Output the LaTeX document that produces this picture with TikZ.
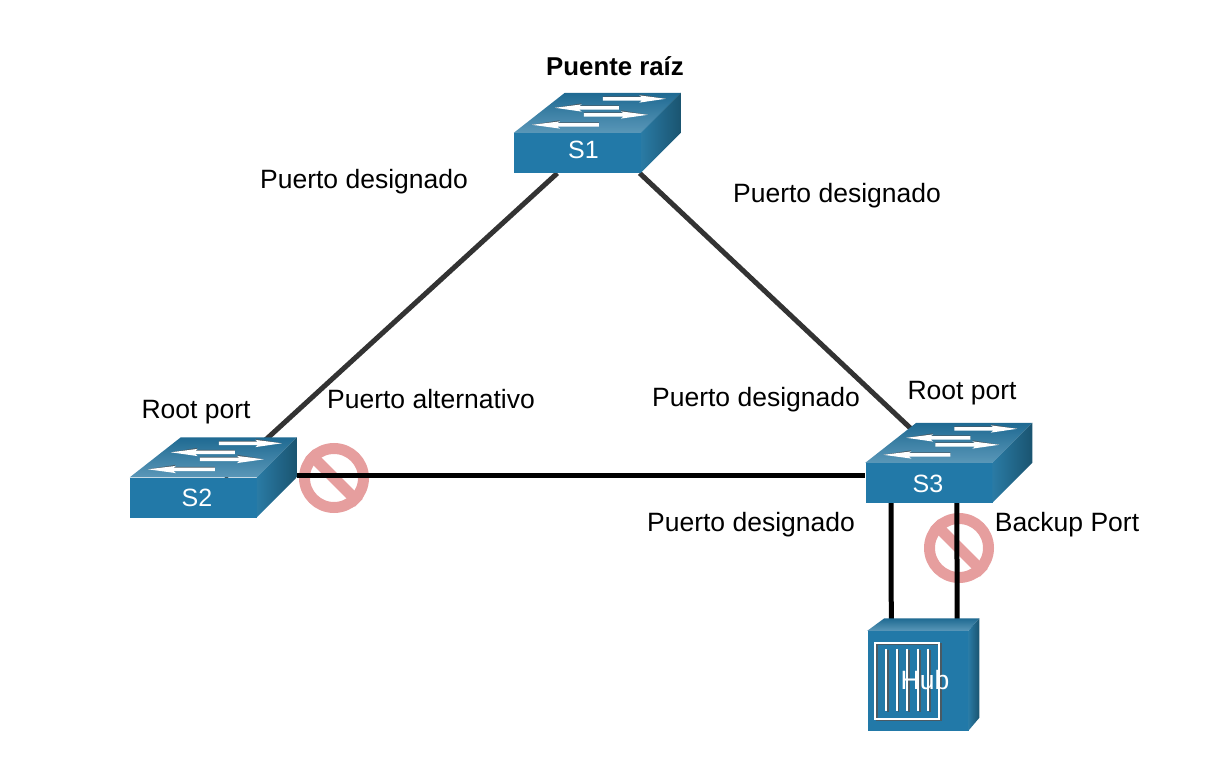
\documentclass[tikz,border=0pt]{standalone}
\usepackage{fontspec}
\setmainfont{Liberation Sans}
\usetikzlibrary{backgrounds}

\definecolor{devblue}{HTML}{2279A8}
\definecolor{topback}{HTML}{1F6A92}
\definecolor{topfront}{HTML}{5A97B8}
\definecolor{sidelight}{HTML}{2A7BA5}
\definecolor{sidedark}{HTML}{1A5470}
\definecolor{linkdark}{HTML}{333333}
\definecolor{blockpink}{HTML}{E69E9E}
\definecolor{arrowshade}{HTML}{4A5A64}

\begin{document}
\begin{tikzpicture}[x=1pt,y=-1pt,every node/.style={font=\fontsize{26.5}{30}\selectfont}]

    % Styles, sizes are reference pixels
    \tikzstyle{switch_front} = [fill=devblue, inner sep=0pt,
        minimum width=127, minimum height=40]
    \tikzstyle{hub_front} = [fill=devblue, inner sep=0pt,
        minimum width=101, minimum height=100]
    \tikzstyle{dev_name} = [text=white, inner sep=0pt]
    \tikzstyle{port_label} = [text=black, inner sep=0pt]
    \tikzstyle{link_dark} = [draw=linkdark, line width=5]
    \tikzstyle{link_black} = [draw=black, line width=5]
    \tikzstyle{block_ring} = [circle, draw=blockpink, line width=11, inner sep=0pt,
        minimum size=59]
    \tikzstyle{block_bar} = [draw=blockpink, line width=11]
    \tikzstyle{top_face} = [top color=topback, bottom color=topfront]
    \tikzstyle{side_face} = [left color=sidelight, right color=sidedark]

    % Flat arrow on a switch top: #1 tail x, #2 tip x, #3 y
    \def\flowarrow#1#2#3{
        \fill[arrowshade] (#1,#3-2.4) -- ({#2-(#2-#1)*0.38},#3-2.4) -- ({#2-(#2-#1)*0.42},#3-4.5)
            -- (#2,#3) -- (#1,#3) -- cycle;
        \fill[white] (#1,#3-1.6) -- ({#2-(#2-#1)*0.38},#3-1.6) -- ({#2-(#2-#1)*0.42},#3-3.4)
            -- (#2,#3) -- ({#2-(#2-#1)*0.42},#3+3.8) -- ({#2-(#2-#1)*0.38},#3+1.8)
            -- (#1,#3+1.8) -- cycle;
    }
    % Top and side faces of a switch, from its front node
    \def\switchfaces#1{
        \begin{scope}[shift={(#1.north west)}]
            \path[top_face] (0,0) -- (51,-40) -- (167,-40) -- (127,0) -- cycle;
            \path[side_face] (127,0) -- (167,-40) -- (167,0) -- (127,40) -- cycle;
            \flowarrow{89}{152}{-34}
            \flowarrow{105}{41}{-25}
            \flowarrow{70}{134}{-18}
            \flowarrow{85}{18}{-8}
        \end{scope}
    }

    % Switches and hub
    \node[switch_front] (s1) at (577.5,153) {};
    \node[switch_front] (s2) at (193.5,497.5) {};
    \node[switch_front] (s3) at (929,483) {};
    \node[hub_front] (hub) at (918,681) {};

    % Free end of the S2 link on the side face
    \coordinate (s2 port) at ([shift={(40,-2)}]s2.north east);

    \begin{scope}[on background layer]
        % Blocked ports lie under the links
        \node[block_ring] (block s2) at (334,478) {};
        \node[block_ring] (block s3) at (959,548) {};
        \draw[block_bar] (block s2.135) -- (block s2.-45);
        \draw[block_bar] (block s3.135) -- (block s3.-45);

        % Links
        \draw[link_dark] (s1.-135) -- (s2.33);
        \draw[link_dark] (s1.-18) -- (s3.48);
        \draw[link_black] (s2 port) -- (s2 port -| s3.west);
        \draw[link_black] (s3.-152.2) -- (hub.118.4);
        \draw[link_black] (s3.-36) -- (hub.52);
    \end{scope}

    \switchfaces{s1}
    \switchfaces{s2}
    \switchfaces{s3}

    % Hub faces and panel
    \begin{scope}[shift={(hub.north west)}]
        \path[top_face] (0,0) -- (17,-12.5) -- (112,-12.5) -- (101,0) -- cycle;
        \path[side_face] (101,0) -- (112,-12.5) -- (112,87) -- (101,100) -- cycle;
        \draw[arrowshade, line width=2] (9.5,13.5) rectangle (73.5,89.5);
        \draw[white, line width=1.8] (8,12) rectangle (72,88);
        \foreach \panelx in {19,29.5,40,51,61} {
            \draw[arrowshade, line width=1.8] (\panelx+1.7,19) -- (\panelx+1.7,81);
            \draw[white, line width=1.8] (\panelx,18) -- (\panelx,80);
        }
    \end{scope}

    % Device names
    \node[dev_name, font=\fontsize{25}{28}\selectfont] (s1 name) at ([shift={(6,-3)}]s1.center) {S1};
    \node[dev_name, font=\fontsize{25}{28}\selectfont] (s2 name) at ([shift={(3.5,0)}]s2.center) {S2};
    \node[dev_name, font=\fontsize{25}{28}\selectfont] (s3 name) at ([shift={(-1,1)}]s3.center) {S3};
    \node[dev_name] (hub name) at ([shift={(7,-1)}]hub.center) {Hub};

    % Port labels
    \node[port_label, font=\fontsize{25.8}{30}\selectfont\bfseries] (root bridge) at (615,66) {Puente raíz};
    \node[port_label] (s1 left) at (364,182) {Puerto designado};
    \node[port_label] (s1 right) at (837,196) {Puerto designado};
    \node[port_label] (s2 root) at (196,412) {Root port};
    \node[port_label] (s2 alt) at (431,399) {Puerto alternativo};
    \node[port_label] (s3 left) at (756,400) {Puerto designado};
    \node[port_label] (s3 root) at (962,393) {Root port};
    \node[port_label] (s3 down) at (751,525) {Puerto designado};
    \node[port_label] (s3 backup) at (1067,525) {Backup Port};

    \useasboundingbox (0,0) rectangle (1215,778);

\end{tikzpicture}
\end{document}
